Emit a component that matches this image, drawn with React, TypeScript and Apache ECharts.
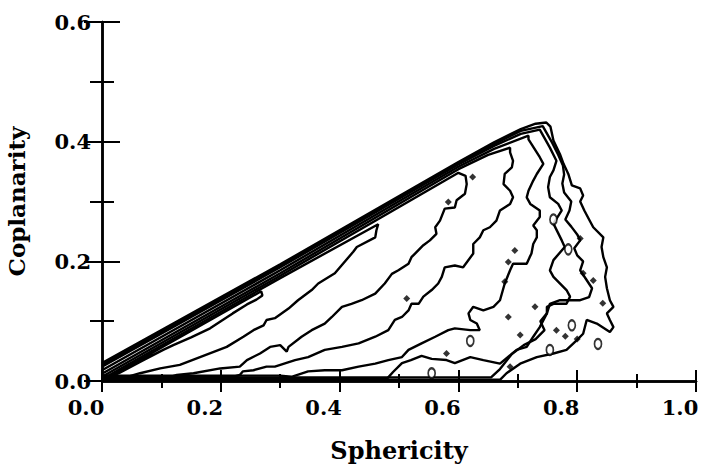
import React, { useEffect, useRef } from "react";
import * as echarts from "echarts";

const xTickValues = [0, 0.2, 0.4, 0.6, 0.8, 1.0];
const yTickValues = [0, 0.2, 0.4, 0.6];
const xName = "Sphericity";
const yName = "Coplanarity";

// contour lines, innermost first: [sphericity, coplanarity]
const contour1 = [
  [0, 0.0], [0.134, 0.075], [0.268, 0.15], [0.27, 0.143], [0.26, 0.136], [0.244, 0.128],
  [0.22, 0.113], [0.2, 0.1], [0.182, 0.088], [0.15, 0.073], [0.12, 0.06], [0.103, 0.052],
  [0.064, 0.032], [0.03, 0.014], [0, 0.0],
];
const contour2 = [
  [0, 0.003], [0.3, 0.172], [0.465, 0.262], [0.462, 0.252], [0.46, 0.24], [0.429, 0.224],
  [0.423, 0.216], [0.392, 0.18], [0.364, 0.163], [0.353, 0.152], [0.33, 0.135], [0.314, 0.121],
  [0.291, 0.105], [0.277, 0.102], [0.272, 0.093], [0.255, 0.085], [0.238, 0.074], [0.21, 0.057],
  [0.165, 0.04], [0.131, 0.027], [0.098, 0.021], [0.064, 0.013], [0.047, 0.008], [0.04, 0.003],
  [0, 0.003],
];
const contour3 = [
  [0, 0.007], [0.3, 0.176], [0.6, 0.348], [0.612, 0.343], [0.614, 0.329], [0.611, 0.313],
  [0.597, 0.302], [0.594, 0.29], [0.577, 0.288], [0.569, 0.268], [0.561, 0.257], [0.563, 0.246],
  [0.552, 0.235], [0.541, 0.227], [0.527, 0.213], [0.521, 0.207], [0.516, 0.196], [0.499, 0.185],
  [0.488, 0.179], [0.476, 0.163], [0.46, 0.146], [0.437, 0.135], [0.42, 0.129], [0.404, 0.124],
  [0.387, 0.107], [0.375, 0.096], [0.353, 0.085], [0.336, 0.074], [0.314, 0.057], [0.311, 0.049],
  [0.3, 0.06], [0.283, 0.057], [0.266, 0.046], [0.244, 0.035], [0.232, 0.024], [0.199, 0.021],
  [0.154, 0.013], [0.126, 0.01], [0.11, 0.005], [0, 0.005],
];
const contour4 = [
  [0, 0.012], [0.3, 0.18], [0.6, 0.354], [0.65, 0.378], [0.687, 0.39], [0.687, 0.382], [0.692, 0.368],
  [0.69, 0.357], [0.678, 0.346], [0.676, 0.329], [0.687, 0.318], [0.692, 0.307], [0.687, 0.296],
  [0.67, 0.285], [0.664, 0.268], [0.653, 0.257], [0.642, 0.252], [0.636, 0.24], [0.625, 0.229],
  [0.625, 0.213], [0.608, 0.19], [0.594, 0.193], [0.577, 0.19], [0.572, 0.174], [0.566, 0.163],
  [0.555, 0.152], [0.541, 0.141], [0.533, 0.129], [0.521, 0.129], [0.516, 0.118], [0.505, 0.107],
  [0.493, 0.102], [0.482, 0.085], [0.46, 0.074], [0.432, 0.063], [0.404, 0.057], [0.375, 0.052],
  [0.347, 0.04], [0.325, 0.035], [0.291, 0.024], [0.277, 0.024], [0.255, 0.018], [0.237, 0.016],
  [0.232, 0.01], [0.22, 0.007], [0, 0.007],
];
const contour5 = [
  [0, 0.018], [0.3, 0.185], [0.6, 0.358], [0.66, 0.388], [0.718, 0.41], [0.718, 0.404], [0.737, 0.374],
  [0.743, 0.363], [0.732, 0.346], [0.726, 0.335], [0.718, 0.318], [0.715, 0.307], [0.721, 0.296],
  [0.737, 0.285], [0.737, 0.274], [0.726, 0.26], [0.732, 0.252], [0.732, 0.24], [0.726, 0.229],
  [0.723, 0.213], [0.72, 0.207], [0.715, 0.196], [0.692, 0.196], [0.687, 0.185], [0.678, 0.163],
  [0.67, 0.135], [0.659, 0.124], [0.642, 0.118], [0.625, 0.124], [0.617, 0.113], [0.62, 0.102],
  [0.631, 0.096], [0.636, 0.085], [0.62, 0.085], [0.594, 0.088], [0.583, 0.085], [0.561, 0.074],
  [0.538, 0.063], [0.516, 0.052], [0.505, 0.04], [0.482, 0.035], [0.46, 0.029], [0.432, 0.024],
  [0.404, 0.018], [0.375, 0.018], [0.347, 0.016], [0.319, 0.007], [0.3, 0.009], [0, 0.009],
];
const contour6 = [
  [0, 0.024], [0.3, 0.19], [0.6, 0.362], [0.66, 0.393], [0.705, 0.413], [0.737, 0.42], [0.754, 0.39],
  [0.765, 0.368], [0.76, 0.352], [0.754, 0.341], [0.751, 0.324], [0.754, 0.307], [0.768, 0.296],
  [0.774, 0.285], [0.76, 0.263], [0.774, 0.235], [0.779, 0.224], [0.76, 0.202], [0.754, 0.185],
  [0.76, 0.174], [0.782, 0.152], [0.788, 0.141], [0.782, 0.129], [0.76, 0.129], [0.749, 0.124],
  [0.749, 0.113], [0.737, 0.09], [0.726, 0.074], [0.715, 0.057], [0.698, 0.052], [0.67, 0.029],
  [0.642, 0.035], [0.62, 0.04], [0.594, 0.03], [0.58, 0.035], [0.555, 0.037], [0.538, 0.042],
  [0.52, 0.035], [0.505, 0.03], [0.49, 0.015], [0.48, 0.004], [0, 0.004],
];
const contour7 = [
  [0, 0.027], [0.3, 0.1925], [0.6, 0.364], [0.66, 0.396], [0.705, 0.418], [0.742, 0.426],
  [0.758, 0.398], [0.768, 0.378], [0.776, 0.36], [0.778, 0.345], [0.775, 0.33], [0.778, 0.315],
  [0.79, 0.3], [0.787, 0.285], [0.78, 0.27], [0.79, 0.258], [0.8, 0.245], [0.805, 0.235],
  [0.795, 0.222], [0.8, 0.21], [0.81, 0.2], [0.805, 0.185], [0.815, 0.17], [0.825, 0.155],
  [0.82, 0.14], [0.805, 0.135], [0.771, 0.135], [0.754, 0.129], [0.749, 0.113], [0.738, 0.1],
  [0.745, 0.085], [0.73, 0.07], [0.71, 0.06], [0.69, 0.045], [0.67, 0.02], [0.655, 0.006],
  [0, 0.006],
];
const contour8 = [
  [0, 0.03], [0.3, 0.195], [0.6, 0.366], [0.66, 0.399], [0.705, 0.421], [0.73, 0.43],
  [0.748, 0.432], [0.755, 0.425], [0.76, 0.402], [0.771, 0.379], [0.777, 0.363], [0.785, 0.346],
  [0.791, 0.327], [0.805, 0.322], [0.81, 0.31], [0.805, 0.3], [0.812, 0.285], [0.82, 0.27],
  [0.827, 0.257], [0.844, 0.24], [0.841, 0.224], [0.844, 0.207], [0.85, 0.19], [0.847, 0.174],
  [0.85, 0.155], [0.855, 0.135], [0.861, 0.124], [0.85, 0.113], [0.855, 0.102], [0.861, 0.09],
  [0.855, 0.082], [0.833, 0.096], [0.816, 0.102], [0.81, 0.079], [0.799, 0.068], [0.782, 0.052],
  [0.76, 0.046], [0.732, 0.04], [0.704, 0.029], [0.681, 0.013], [0.67, 0.002], [0, 0.002],
];
const contours = [contour1, contour2, contour3, contour4, contour5, contour6, contour7, contour8];

// isolated small islands
const dotPoints = [
  [0.624, 0.341], [0.513, 0.138], [0.583, 0.299], [0.695, 0.218], [0.684, 0.199], [0.678, 0.166],
  [0.729, 0.124], [0.684, 0.107], [0.827, 0.168], [0.765, 0.085], [0.704, 0.077], [0.58, 0.046],
  [0.843, 0.13], [0.81, 0.18], [0.8, 0.07], [0.78, 0.075], [0.687, 0.024], [0.805, 0.238],
];
const ringPoints = [
  [0.62, 0.067], [0.791, 0.093], [0.835, 0.062], [0.555, 0.013], [0.754, 0.052], [0.785, 0.22],
  [0.76, 0.27],
];

export default function App() {
  const ref = useRef<HTMLDivElement>(null);
  useEffect(() => {
    if (!ref.current) return;
    const chart = echarts.init(ref.current, null, { renderer: "svg" });
    const font = "'DejaVu Serif', serif";
    const black = "#000";
    const fmt = (v: number) => v.toFixed(1);
    const xBase = {
      type: "value",
      min: xTickValues[0],
      max: xTickValues[xTickValues.length - 1],
      interval: 0.2,
      axisLine: { show: true, lineStyle: { color: black, width: 2.5 } },
      axisTick: { show: true, inside: true, length: 11, lineStyle: { color: black, width: 2 } },
      minorTick: { show: true, splitNumber: 2, length: 7, lineStyle: { color: black, width: 2 } },
      splitLine: { show: false },
    };
    const yBase = {
      type: "value",
      min: yTickValues[0],
      max: yTickValues[yTickValues.length - 1],
      interval: 0.2,
      axisLine: { show: true, lineStyle: { color: black, width: 2.5 } },
      axisTick: { show: true, inside: true, length: 18, lineStyle: { color: black, width: 2 } },
      minorTick: { show: true, splitNumber: 2, length: 12, lineStyle: { color: black, width: 2 } },
      splitLine: { show: false },
    };
    const lineSeries = contours.map((d) => ({
      type: "line",
      data: d,
      symbol: "none",
      silent: true,
      lineStyle: { color: black, width: 2.4 },
      z: 3,
    }));
    chart.setOption({
      animation: false,
      backgroundColor: "#fff",
      grid: { left: 102, right: 5, top: 22, bottom: 83, containLabel: false, outerBoundsMode: "none" },
      xAxis: [
        {
          ...xBase,
          position: "bottom",
          name: xName,
          nameLocation: "middle",
          nameGap: 57,
          nameTextStyle: { fontFamily: font, fontSize: 24, color: black, fontWeight: "bold" },
          axisLabel: {
            show: true,
            fontFamily: font,
            fontSize: 21,
            fontWeight: "bold",
            color: black,
            margin: 16,
            padding: [0, 32, 0, 0],
            formatter: fmt,
          },
        },
        { ...xBase, position: "top", axisLabel: { show: false } },
      ],
      yAxis: [
        {
          ...yBase,
          position: "left",
          name: yName,
          nameLocation: "middle",
          nameGap: 74,
          nameTextStyle: { fontFamily: font, fontSize: 23, color: black, fontWeight: "bold" },
          axisLabel: {
            show: true,
            fontFamily: font,
            fontSize: 21,
            fontWeight: "bold",
            color: black,
            margin: 11,
            formatter: fmt,
          },
        },
        { ...yBase, position: "right", axisLabel: { show: false } },
      ],
      series: [
        ...lineSeries,
        {
          type: "scatter",
          data: dotPoints,
          symbol: "diamond",
          symbolSize: 7,
          silent: true,
          itemStyle: { color: black },
          z: 4,
        },
        {
          type: "scatter",
          data: ringPoints,
          symbol: "circle",
          symbolSize: [7, 10],
          silent: true,
          itemStyle: { color: "#fff", borderColor: black, borderWidth: 2 },
          z: 4,
        },
      ],
    });
    return () => chart.dispose();
  }, []);
  return <div ref={ref} style={{ width: 701, height: 464, position: "absolute", left: 0, top: 0 }} />;
}
